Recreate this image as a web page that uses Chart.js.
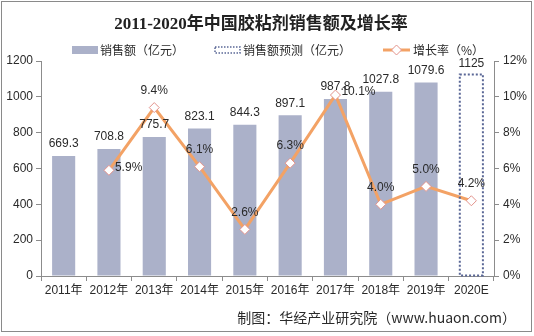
<!DOCTYPE html>
<html>
<head>
<meta charset="utf-8">
<script src="https://cdn.jsdelivr.net/npm/chart.js@4"></script>
<style>
  html, body { margin: 0; padding: 0; background: #fff; }
  canvas { display: block; }
</style>
</head>
<body>
<canvas id="c" width="534" height="336"></canvas>
<script>
// Categories and series
const years = ['2011年', '2012年', '2013年', '2014年', '2015年', '2016年', '2017年', '2018年', '2019年', '2020E'];
const sales = [669.3, 708.8, 775.7, 823.1, 844.3, 897.1, 987.8, 1027.8, 1079.6, null];
const forecast = [null, null, null, null, null, null, null, null, null, 1125];
const growth = [null, 5.9, 9.4, 6.1, 2.6, 6.3, 10.1, 4.0, 5.0, 4.2];

const TITLE = '2011-2020年中国胶粘剂销售额及增长率';
const SOURCE = '制图：华经产业研究院（www.huaon.com）';
const LEGEND = ['销售额（亿元）', '销售额预测（亿元）', '增长率（%）'];

const BAR_COLOR = '#ABB1C9';
const DOT_COLOR = '#5A6796';
const LINE_COLOR = '#F3A265';
const MARK_BORDER = '#E3938C';
const AXIS_COLOR = '#8C8C8C';
const TEXT_COLOR = '#2A2A2A';
const LATIN = '"Liberation Sans", Arial, "Noto Sans CJK SC", sans-serif';
const CJK = '"Noto Sans CJK SC", "Liberation Sans", sans-serif';

// growth label side for each point
const growthSide = ['top', 'right', 'top', 'top', 'top', 'top', 'right', 'top', 'top', 'top'];

function diamond(ctx, x, y, r) {
  ctx.beginPath();
  ctx.moveTo(x, y - r);
  ctx.lineTo(x + r, y);
  ctx.lineTo(x, y + r);
  ctx.lineTo(x - r, y);
  ctx.closePath();
}

const decor = {
  id: 'decor',
  beforeDraw(chart) {
    const ctx = chart.ctx;
    ctx.save();
    ctx.fillStyle = '#fff';
    ctx.fillRect(0, 0, chart.width, chart.height);
    ctx.restore();
  },
  afterDatasetsDraw(chart) {
    const ctx = chart.ctx;
    ctx.save();
    // dotted outline of the forecast bar
    const fm = chart.getDatasetMeta(1);
    fm.data.forEach((el, i) => {
      if (forecast[i] == null) return;
      const p = el.getProps(['x', 'y', 'base', 'width'], true);
      ctx.strokeStyle = DOT_COLOR;
      ctx.lineWidth = 2;
      ctx.setLineDash([2, 2]);
      ctx.strokeRect(p.x - p.width / 2, p.y, p.width, p.base - p.y);
      ctx.setLineDash([]);
    });

    ctx.font = '12px ' + LATIN;
    ctx.fillStyle = TEXT_COLOR;
    // bar value labels
    const bm = chart.getDatasetMeta(0);
    ctx.textAlign = 'center';
    ctx.textBaseline = 'bottom';
    bm.data.forEach((el, i) => {
      if (sales[i] == null) return;
      ctx.fillText(String(sales[i]), el.x, el.y - 6);
    });
    fm.data.forEach((el, i) => {
      if (forecast[i] == null) return;
      ctx.fillText(String(forecast[i]), el.x, el.y - 5);
    });
    // growth labels
    const lm = chart.getDatasetMeta(2);
    lm.data.forEach((el, i) => {
      if (growth[i] == null) return;
      const t = growth[i].toFixed(1) + '%';
      if (growthSide[i] === 'right') {
        ctx.textAlign = 'left';
        ctx.textBaseline = 'middle';
        ctx.fillText(t, el.x + 6, el.y - 3);
      } else {
        ctx.textAlign = 'center';
        ctx.textBaseline = 'bottom';
        ctx.fillText(t, el.x, el.y - 11);
      }
    });
    ctx.restore();
  },
  afterDraw(chart) {
    const ctx = chart.ctx;
    ctx.save();
    // title
    ctx.fillStyle = '#222';
    ctx.font = 'bold 17px "Liberation Serif", "Noto Sans CJK SC", serif';
    ctx.textAlign = 'center';
    ctx.textBaseline = 'middle';
    ctx.fillText(TITLE, 261, 25);

    // legend
    ctx.font = '12px ' + CJK;
    ctx.textAlign = 'left';
    ctx.fillStyle = BAR_COLOR;
    ctx.fillRect(72, 46, 26, 8);
    ctx.fillStyle = TEXT_COLOR;
    ctx.fillText(LEGEND[0], 100, 50);

    ctx.strokeStyle = DOT_COLOR;
    ctx.lineWidth = 1.5;
    ctx.setLineDash([1.5, 1.5]);
    ctx.strokeRect(215, 47, 25, 6);
    ctx.setLineDash([]);
    ctx.fillText(LEGEND[1], 243, 50);

    ctx.strokeStyle = LINE_COLOR;
    ctx.lineWidth = 3;
    ctx.beginPath();
    ctx.moveTo(383, 50);
    ctx.lineTo(410, 50);
    ctx.stroke();
    diamond(ctx, 396.5, 50, 5);
    ctx.fillStyle = '#fff';
    ctx.fill();
    ctx.strokeStyle = MARK_BORDER;
    ctx.lineWidth = 1;
    ctx.stroke();
    ctx.fillStyle = TEXT_COLOR;
    ctx.fillText(LEGEND[2], 413, 50);

    // source note
    ctx.font = '14px ' + CJK;
    ctx.textAlign = 'right';
    ctx.fillText(SOURCE, 516, 318);

    // frame
    ctx.strokeStyle = '#8A8A8A';
    ctx.lineWidth = 1;
    ctx.strokeRect(1.5, 1.5, 530, 330);
    ctx.restore();
  }
};

new Chart(document.getElementById('c'), {
  data: {
    labels: years,
    datasets: [
      {
        type: 'bar', label: LEGEND[0], data: sales, yAxisID: 'y',
        backgroundColor: BAR_COLOR, borderWidth: 0,
        barPercentage: 0.51, categoryPercentage: 1, grouped: false, order: 2
      },
      {
        type: 'bar', label: LEGEND[1], data: forecast, yAxisID: 'y',
        backgroundColor: 'rgba(255,255,255,0)', borderWidth: 0,
        barPercentage: 0.51, categoryPercentage: 1, grouped: false, order: 1
      },
      {
        type: 'line', label: LEGEND[2], data: growth, yAxisID: 'y1',
        borderColor: LINE_COLOR, borderWidth: 3, tension: 0,
        pointStyle: 'rectRot', pointRadius: 5, pointHoverRadius: 5,
        pointBackgroundColor: '#fff', pointBorderColor: MARK_BORDER,
        pointBorderWidth: 1, spanGaps: false, order: 0
      }
    ]
  },
  options: {
    responsive: false,
    animation: false,
    events: [],
    layout: { padding: { top: 61, bottom: 36, left: 0, right: 0 } },
    plugins: { legend: { display: false }, title: { display: false }, tooltip: { enabled: false } },
    scales: {
      x: {
        offset: true,
        grid: { drawOnChartArea: false, drawTicks: true, tickLength: 5, color: AXIS_COLOR, offset: true },
        border: { color: AXIS_COLOR },
        ticks: { color: TEXT_COLOR, font: { size: 12, family: LATIN }, padding: 2, maxRotation: 0, autoSkip: false },
        afterFit(s) { s.height = 24; }
      },
      y: {
        position: 'left', min: 0, max: 1200,
        grid: { drawOnChartArea: false, drawTicks: true, tickLength: 5, color: AXIS_COLOR },
        border: { color: AXIS_COLOR },
        ticks: { stepSize: 200, color: TEXT_COLOR, font: { size: 12, family: LATIN }, padding: 3,
                 callback: v => String(v) },
        afterFit(s) { s.width = 41; }
      },
      y1: {
        position: 'right', min: 0, max: 12,
        grid: { drawOnChartArea: false, drawTicks: true, tickLength: 5, color: AXIS_COLOR },
        border: { color: AXIS_COLOR },
        ticks: { stepSize: 2, color: TEXT_COLOR, font: { size: 12, family: LATIN }, padding: 4,
                 callback: v => v + '%' },
        afterFit(s) { s.width = 40; }
      }
    }
  },
  plugins: [decor]
});
</script>
</body>
</html>
